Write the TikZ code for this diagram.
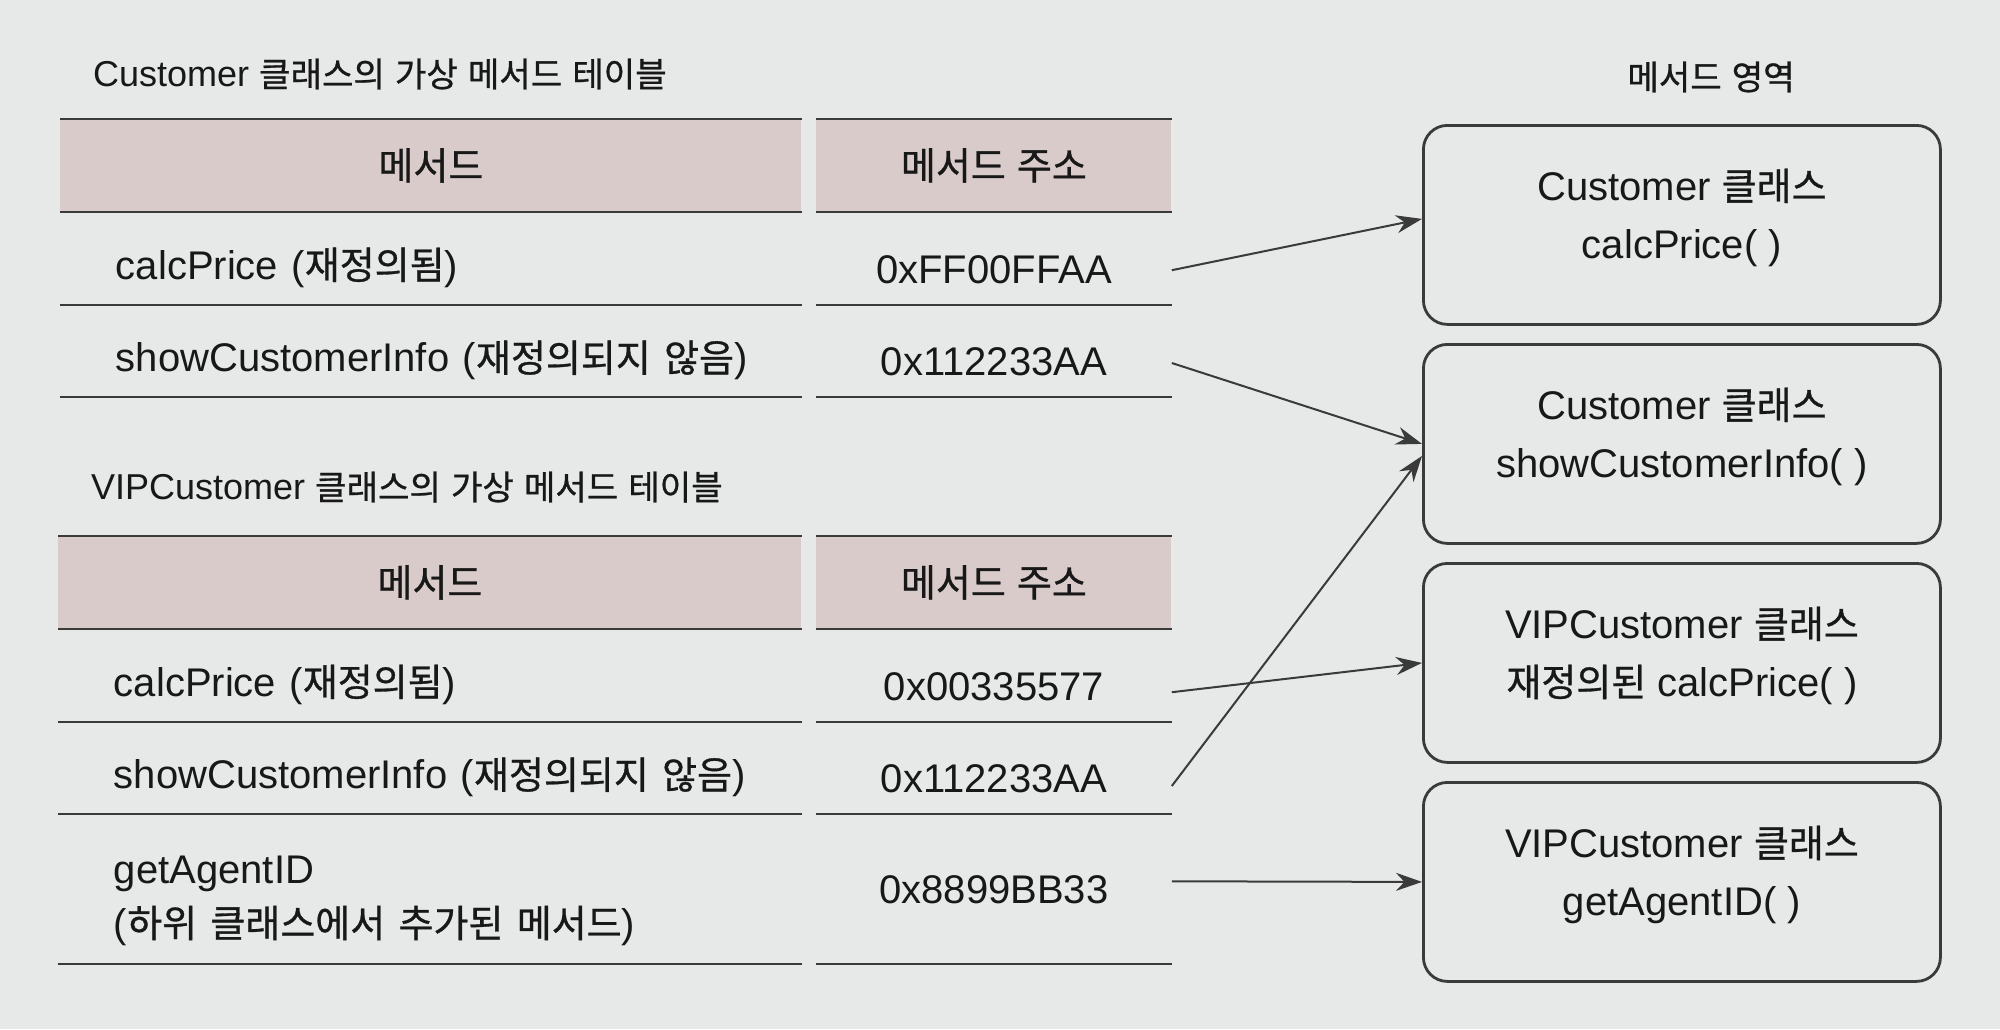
\documentclass[tikz,border=0pt]{standalone}
\usepackage{fontspec}
\setmainfont{Liberation Sans}
\newfontfamily\hangul{Noto Sans CJK KR}[Scale=0.95,FakeBold=0.8]
% Hangul syllables switch to the Korean font by themselves
\newXeTeXintercharclass\hangulclass
\newcount\hgchar
\hgchar="AC00
\loop
  \XeTeXcharclass\hgchar=\hangulclass
  \advance\hgchar by 1
\ifnum\hgchar<"D7A4 \repeat
\XeTeXinterchartoks 0 \hangulclass = {\hangul}
\XeTeXinterchartoks 4095 \hangulclass = {\hangul}
\XeTeXinterchartoks \hangulclass 0 = {\rmfamily}
\XeTeXinterchartoks \hangulclass 4095 = {\rmfamily}
\XeTeXinterchartokenstate=1
\usetikzlibrary{arrows.meta,positioning}
\definecolor{paper}{HTML}{E7E9E9}
\definecolor{head}{HTML}{D9CBCA}
\definecolor{ink}{HTML}{181818}
\definecolor{rule}{HTML}{3A3A3A}

\begin{document}
\begin{tikzpicture}[x=0.5pt,y=-0.5pt,node distance=8.6pt,
  every node/.style={font=\fontsize{20}{29}\selectfont,text=ink},
  title/.style={font=\fontsize{18}{22}\selectfont,anchor=west},
  headcell/.style={fill=head,minimum height=46pt,inner sep=0pt,anchor=north west},
  methcell/.style={minimum height=46pt,text width=345pt,text height=25pt,align=left,inner xsep=27.75pt,inner ysep=0pt},
  addrcell/.style={minimum width=177.5pt,minimum height=46pt,text height=25pt,inner sep=0pt,align=center},
  classbox/.style={draw=rule,line width=1.4pt,rounded corners=12pt,minimum width=258.5pt,minimum height=99.5pt,text depth=11.5pt,align=center},
  headline/.style={rule,line width=1.3pt},
  rowline/.style={rule,line width=1pt},
  link/.style={-{Stealth[length=13pt,width=9pt]},rule,line width=1pt}]
\fill[paper] (0,0) rectangle (2000,1029);
\useasboundingbox (0,0) rectangle (2000,1029);

% Customer table
\node[title] (t1) at (86,74) {Customer 클래스의 가상 메서드 테이블};
\node[headcell,minimum width=370.5pt] (h1) at (60,119) {메서드};
\node[headcell,minimum width=177.5pt] (g1) at (816,119) {메서드 주소};
\node[methcell,below=0pt of h1.south west,anchor=north west] (m1) {calcPrice (재정의됨)};
\node[addrcell,below=0pt of g1] (a1) {0xFF00FFAA};
\node[methcell,below=0pt of m1.south west,anchor=north west] (m2) {showCustomerInfo (재정의되지 않음)};
\node[addrcell,below=0pt of a1] (a2) {0x112233AA};

% VIPCustomer table
\node[title] (t2) at (84,487) {VIPCustomer 클래스의 가상 메서드 테이블};
\node[headcell,minimum width=371.5pt] (h2) at (58,536) {메서드};
\node[headcell,minimum width=177.5pt] (g2) at (816,536) {메서드 주소};
\node[methcell,below=0pt of h2.south west,anchor=north west] (m3) {calcPrice (재정의됨)};
\node[addrcell,below=0pt of g2] (a3) {0x00335577};
\node[methcell,below=0pt of m3.south west,anchor=north west] (m4) {showCustomerInfo (재정의되지 않음)};
\node[addrcell,below=0pt of a3] (a4) {0x112233AA};
\node[methcell,below=0pt of m4.south west,anchor=north west,minimum height=74.5pt,font=\fontsize{20}{27}\selectfont] (m5) {getAgentID\\(하위 클래스에서 추가된 메서드)};
\node[addrcell,below=0pt of a4,minimum height=74.5pt,text height=14pt] (a5) {0x8899BB33};

\foreach \n in {h1,g1,h2,g2}
  \draw[headline] (\n.north west) -- (\n.north east) (\n.south west) -- (\n.south east);
\foreach \m/\h in {m1/h1,m2/h1,m3/h2,m4/h2,m5/h2}
  \draw[rowline] (\m.south west) -- (\m.south -| \h.east);
\foreach \n in {a1,a2,a3,a4,a5}
  \draw[rowline] (\n.south west) -- (\n.south east);

% method area
\node (area) at (1711,77) [font=\fontsize{18}{22}\selectfont] {메서드 영역};
\node[classbox,anchor=north west] (c1) at (1422,124) {Customer 클래스\\calcPrice( )};
\node[classbox,below=of c1] (c2) {Customer 클래스\\showCustomerInfo( )};
\node[classbox,below=of c2] (c3) {VIPCustomer 클래스\\재정의된 calcPrice( )};
\node[classbox,below=of c3] (c4) {VIPCustomer 클래스\\getAgentID( )};

\draw[link] ([yshift=-6pt]a1.east) -- ([yshift=3pt]c1.west);
\draw[link] ([yshift=-6pt]a2.east) -- (c2.west);
\draw[link] ([yshift=-8.5pt]a3.east) -- (c3.west);
\draw[link] ([yshift=-9pt]a4.east) -- ([yshift=-6pt]c2.west);
\draw[link] ([yshift=4pt]a5.east) -- (c4.west);
\end{tikzpicture}
\end{document}
